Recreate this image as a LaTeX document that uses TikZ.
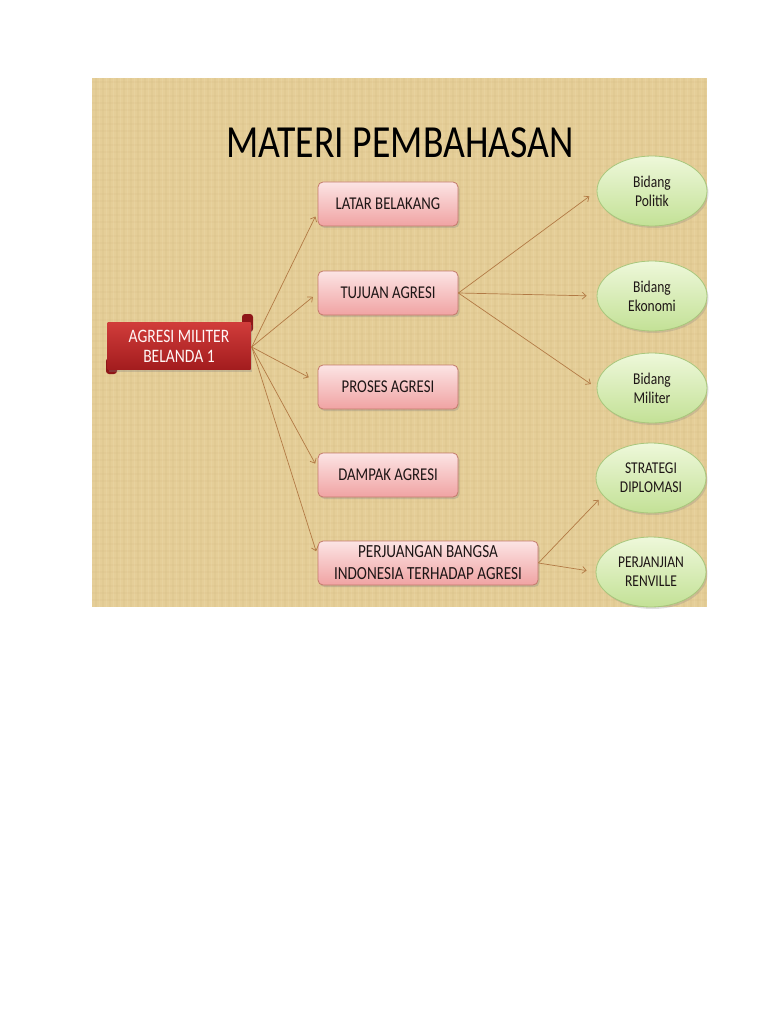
\documentclass[tikz,border=0pt]{standalone}
\usepackage{fontspec}
\setmainfont{Carlito}
\newfontfamily\narrowcal[FakeStretch=0.82]{Carlito}
\usetikzlibrary{shapes.geometric,shadows,arrows.meta}
\definecolor{bg}{HTML}{E5CE98}
\definecolor{bgline}{HTML}{CBB077}
\definecolor{bgline2}{HTML}{F2E2B6}
\definecolor{boxtop}{HTML}{FCE4E4}
\definecolor{boxbot}{HTML}{F0A3A3}
\definecolor{boxedge}{HTML}{C47A6C}
\definecolor{elltop}{HTML}{EEF8DA}
\definecolor{ellbot}{HTML}{C3E196}
\definecolor{elledge}{HTML}{A8C77C}
\definecolor{bantop}{HTML}{D03C3A}
\definecolor{banbot}{HTML}{A31C1E}
\definecolor{bandark}{HTML}{8E1518}
\definecolor{arrowc}{HTML}{B27A45}
\definecolor{btext}{HTML}{1E1616}
\begin{document}
\begin{tikzpicture}[x=1pt,y=-1pt,
  topicbox/.style={draw=boxedge, line width=0.8pt, rounded corners=5pt,
    top color=boxtop, bottom color=boxbot, minimum height=44pt,
    text=btext, font=\narrowcal\fontsize{18}{22}\selectfont, align=center,
    drop shadow={shadow xshift=1.5pt, shadow yshift=-2pt, opacity=0.3}},
  subell/.style={ellipse, draw=elledge, line width=0.8pt,
    top color=elltop, bottom color=ellbot, minimum width=110pt,
    minimum height=70pt, inner sep=0pt, text=btext,
    font=\narrowcal\fontsize{16.5}{19}\selectfont, align=center,
    drop shadow={shadow xshift=1.5pt, shadow yshift=-2pt, opacity=0.25}},
  link/.style={draw=arrowc, line width=0.7pt,
    -{Straight Barb[length=4pt,width=7pt]}}]
\useasboundingbox (0,0) rectangle (768,1024);
\fill[white] (0,0) rectangle (768,1024);
% slide background with burlap texture
\fill[bg] (92,78) rectangle (707,607);
\foreach \x in {96,103,...,705} {
  \draw[bgline, opacity=0.12, line width=1.2pt] (\x,78) -- (\x,607);
}
\foreach \y in {82,89,...,605} {
  \draw[bgline, opacity=0.1, line width=1.2pt] (92,\y) -- (707,\y);
}
\foreach \x in {99,106,...,705} {
  \draw[bgline2, opacity=0.2, line width=1pt] (\x,78) -- (\x,607);
}
% title
\node[font=\narrowcal\fontsize{46}{50}\selectfont, text=black] (title) at (400,143) {MATERI PEMBAHASAN};
% banner
\fill[bandark, rounded corners=3pt] (242,314) rectangle (253,332);
\fill[bandark, rounded corners=3pt] (106,358) rectangle (117,374);
\node[rectangle, top color=bantop, bottom color=banbot, minimum width=143pt,
  minimum height=47pt, inner sep=0pt, text=white!88!pink,
  font=\narrowcal\fontsize{19}{20}\selectfont, align=center,
  drop shadow={shadow xshift=1.5pt, shadow yshift=-2pt, opacity=0.3}]
  (banner) at (179,346) {AGRESI MILITER\\BELANDA 1};
% topic boxes
\node[topicbox, minimum width=140pt] (latar) at (388,204) {LATAR BELAKANG};
\node[topicbox, minimum width=140pt] (tujuan) at (388,293) {TUJUAN AGRESI};
\node[topicbox, minimum width=140pt] (proses) at (388,387) {PROSES AGRESI};
\node[topicbox, minimum width=140pt] (dampak) at (388,475) {DAMPAK AGRESI};
\node[topicbox, minimum width=220pt, inner sep=1pt, font=\narrowcal\fontsize{18.5}{22}\selectfont] (perj) at (428,563) {PERJUANGAN BANGSA\\INDONESIA TERHADAP AGRESI};
% ellipses
\node[subell] (pol) at (652,191) {Bidang\\Politik};
\node[subell] (eko) at (652,296) {Bidang\\Ekonomi};
\node[subell] (mil) at (652,388) {Bidang\\Militer};
\node[subell] (strat) at (651,478) {STRATEGI\\DIPLOMASI};
\node[subell] (renv) at (651,572) {PERJANJIAN\\RENVILLE};
% connectors from banner
\coordinate (bsrc) at ([xshift=1pt,yshift=-1pt]banner.east);
\draw[link, shorten >=5pt] (bsrc) -- ([yshift=-8pt]latar.west);
\draw[link, shorten >=6pt] (bsrc) -- (tujuan.west);
\draw[link, shorten >=10pt] (bsrc) -- ([yshift=5pt]proses.west);
\draw[link, shorten >=5pt] (bsrc) -- ([yshift=7pt]dampak.west);
\draw[link, shorten >=5pt] (bsrc) -- ([yshift=7pt]perj.west);
% connectors from TUJUAN
\draw[link, shorten >=9pt] (tujuan.east) -- (pol.west);
\draw[link, shorten >=10pt] (tujuan.east) -- (eko.west);
\draw[link, shorten >=7pt] (tujuan.east) -- (mil.west);
% connectors from PERJUANGAN
\draw[link, shorten >=6pt] (perj.east) -- (strat.200);
\draw[link, shorten >=9pt] (perj.east) -- (renv.west);
\end{tikzpicture}
\end{document}
